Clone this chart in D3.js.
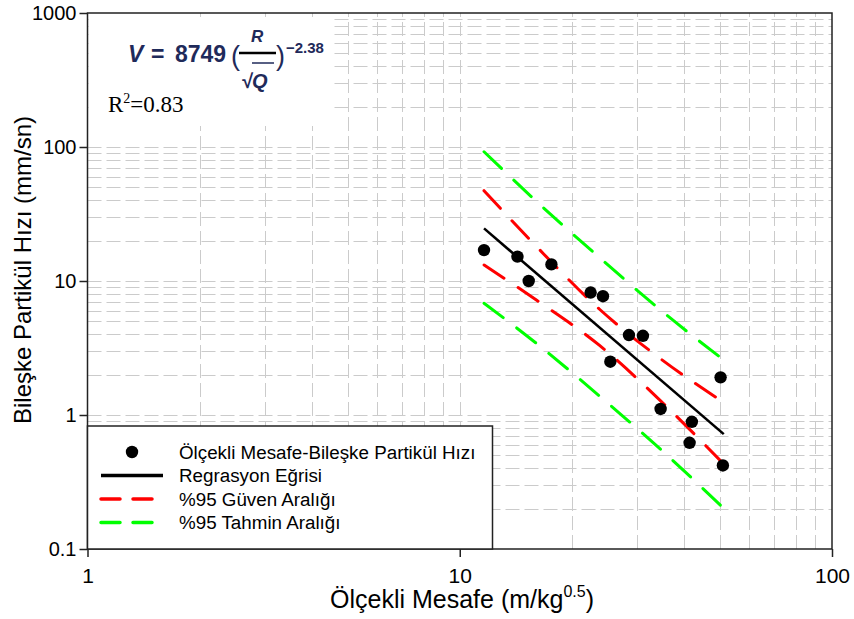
<!DOCTYPE html>
<html>
<head>
<meta charset="utf-8">
<script src="https://cdn.jsdelivr.net/npm/d3@7"></script>
<style>
  body { margin: 0; background: #fff; }
  svg { font-family: "Liberation Sans", Arial, sans-serif; }
</style>
</head>
<body>
<div id="chart"></div>
<script>
const W = 854, H = 619;
const margin = {left: 87.5, right: 22, top: 13, bottom: 70};

// observed points
const obsX = [11.62, 14.29, 15.32, 17.63, 22.47, 24.25, 25.38, 28.48, 31.05, 34.64, 41.44, 42.03, 50.2, 50.92];
const obsY = [17.0, 15.2, 10.0, 13.3, 8.2, 7.7, 2.5, 3.95, 3.9, 1.11, 0.62, 0.89, 1.91, 0.42];

// regression line
const regX = [11.62, 51.2];
const regY = [24.7, 0.72];

// confidence / prediction bands
const bandX = [11.62, 16.1, 23.7, 34.8, 51.2];
const confUpper = [47.2, 18.0, 6.18, 2.60, 1.24];
const confLower = [13.16, 7.18, 3.32, 1.26, 0.43];
const predUpper = [92.2, 39.1, 15.0, 6.0, 2.57];
const predLower = [6.82, 3.41, 1.39, 0.548, 0.201];

const xTicks = [1, 10, 100];
const yTicks = [0.1, 1, 10, 100, 1000];

const legendLabels = ["Ölçekli Mesafe-Bileşke Partikül Hızı", "Regrasyon Eğrisi", "%95 Güven Aralığı", "%95 Tahmin Aralığı"];

var svg = d3.select("#chart").append("svg")
    .attr("width", W)
    .attr("height", H);

var x = d3.scaleLog().domain([1, 100]).range([margin.left, W - margin.right]);
var y = d3.scaleLog().domain([0.1, 1000]).range([H - margin.bottom, margin.top]);

// grid (minor + major)
var grid = svg.append("g").attr("class", "grid")
    .attr("stroke", "#cbcbcb")
    .attr("stroke-width", 1)
    .attr("stroke-dasharray", "14,5");
grid.selectAll("line.h")
    .data(y.ticks().filter(d => d > 0.1 && d < 1000))
    .enter().append("line")
    .attr("x1", x(1)).attr("x2", x(100))
    .attr("y1", d => Math.round(y(d)) + 0.5).attr("y2", d => Math.round(y(d)) + 0.5);
grid.selectAll("line.v")
    .data(x.ticks().filter(d => d > 1 && d < 100))
    .enter().append("line")
    .attr("y1", y(0.1)).attr("y2", y(1000))
    .attr("x1", d => Math.round(x(d)) + 0.5).attr("x2", d => Math.round(x(d)) + 0.5);

// white box behind the equation
svg.append("rect")
    .attr("x", x(1) + 1).attr("y", 17)
    .attr("width", 245).attr("height", 109)
    .attr("fill", "#fff");

// bands
function linePts(xs, ys) { return xs.map((d, i) => [x(d), y(ys[i])]); }
var curve = d3.line().curve(d3.curveMonotoneX);

var bands = [
  {xs: bandX, ys: predUpper, c: "#00ff00"},
  {xs: bandX, ys: predLower, c: "#00ff00"},
  {xs: bandX, ys: confUpper, c: "#ff0000"},
  {xs: bandX, ys: confLower, c: "#ff0000"}
];
svg.append("g").selectAll("path")
    .data(bands)
    .enter().append("path")
    .attr("d", d => curve(linePts(d.xs, d.ys)))
    .attr("fill", "none")
    .attr("stroke", d => d.c)
    .attr("stroke-width", 3)
    .attr("stroke-linecap", "round")
    .attr("stroke-dasharray", "24,17");

// regression
svg.append("path")
    .attr("d", d3.line()(linePts(regX, regY)))
    .attr("fill", "none")
    .attr("stroke", "#000")
    .attr("stroke-width", 2.6);

// points
svg.append("g").selectAll("circle")
    .data(obsX)
    .enter().append("circle")
    .attr("cx", d => x(d))
    .attr("cy", (d, i) => y(obsY[i]))
    .attr("r", 6.2)
    .attr("fill", "#000");

// frame
svg.append("rect")
    .attr("x", x(1)).attr("y", y(1000))
    .attr("width", x(100) - x(1)).attr("height", y(0.1) - y(1000))
    .attr("fill", "none")
    .attr("stroke", "#222")
    .attr("stroke-width", 1.5);

// axes
var yAxis = svg.append("g")
    .attr("transform", "translate(" + x(1) + ",0)")
    .call(d3.axisLeft(y).tickValues(yTicks).tickSize(8).tickPadding(3).tickFormat(d3.format("")));
var xAxis = svg.append("g")
    .attr("transform", "translate(0," + y(0.1) + ")")
    .call(d3.axisBottom(x).tickValues(xTicks).tickSize(8).tickPadding(11).tickFormat(d3.format("")));
[xAxis, yAxis].forEach(function (a) {
    a.select(".domain").remove();
    a.selectAll(".tick line").attr("stroke", "#222").attr("stroke-width", 1.5);
    a.selectAll("text").attr("font-size", 20).attr("fill", "#000")
        .attr("font-family", "Liberation Sans, Arial, sans-serif");
});
xAxis.selectAll("text").attr("font-size", 21);

// legend
var lg = svg.append("g");
lg.append("rect")
    .attr("x", x(1)).attr("y", 426)
    .attr("width", 405).attr("height", y(0.1) - 426)
    .attr("fill", "#fff")
    .attr("stroke", "#222")
    .attr("stroke-width", 1.5);
var rows = lg.selectAll("g.row")
    .data(legendLabels)
    .enter().append("g")
    .attr("transform", (d, i) => "translate(0," + (452 + i * 23.5) + ")");
rows.append("text")
    .attr("x", 179).attr("dy", "0.35em")
    .attr("font-size", 18.8)
    .text(d => d);
rows.filter((d, i) => i === 0).append("circle")
    .attr("cx", 132).attr("r", 6.2).attr("fill", "#000");
rows.filter((d, i) => i > 0).append("line")
    .attr("x1", 101).attr("x2", 163)
    .attr("stroke", (d, i) => ["#000", "#ff0000", "#00ff00"][i])
    .attr("stroke-width", 3.5)
    .attr("stroke-linecap", (d, i) => i === 0 ? "butt" : "round")
    .attr("stroke-dasharray", (d, i) => i === 0 ? null : "19,13");

// axis titles
var xt = svg.append("text")
    .attr("x", 462).attr("y", 608)
    .attr("text-anchor", "middle")
    .attr("font-size", 25);
xt.append("tspan").text("Ölçekli Mesafe (m/kg");
xt.append("tspan").attr("dy", -11).attr("font-size", 16).text("0.5");
xt.append("tspan").attr("dy", 11).text(")");

svg.append("text")
    .attr("transform", "translate(31,270) rotate(-90)")
    .attr("text-anchor", "middle")
    .attr("font-size", 24)
    .text("Bileşke Partikül Hızı (mm/sn)");

// equation
var eqColor = "#1f2a5a";
var eq = svg.append("g").attr("fill", eqColor).attr("font-family", "Liberation Sans, Arial, sans-serif");
eq.append("text").attr("x", 128).attr("y", 62).attr("font-size", 23).attr("font-style", "italic").attr("font-weight", "bold").text("V");
eq.append("text").attr("x", 151).attr("y", 62).attr("font-size", 23).attr("font-weight", "bold").text("=");
eq.append("text").attr("x", 175).attr("y", 62).attr("font-size", 23).attr("font-weight", "bold").text("8749");
eq.append("text").attr("x", 231).attr("y", 65).attr("font-size", 27).text("(");
eq.append("text").attr("x", 251).attr("y", 42).attr("font-size", 17).attr("font-style", "italic").attr("font-weight", "bold").text("R");
eq.append("line").attr("x1", 239).attr("x2", 276).attr("y1", 53).attr("y2", 53).attr("stroke", "#000").attr("stroke-width", 2.5);
eq.append("text").attr("x", 241).attr("y", 88).attr("font-size", 20).attr("font-style", "italic").attr("font-weight", "bold").text("√Q");
eq.append("line").attr("x1", 252).attr("x2", 274).attr("y1", 63).attr("y2", 63).attr("stroke", eqColor).attr("stroke-width", 1.5);
eq.append("text").attr("x", 276).attr("y", 65).attr("font-size", 27).text(")");
eq.append("text").attr("x", 286).attr("y", 53).attr("font-size", 15).attr("font-weight", "bold").text("−2.38");

var r2 = svg.append("text")
    .attr("x", 108).attr("y", 112)
    .attr("font-family", "Liberation Serif, Times New Roman, serif")
    .attr("font-size", 23);
r2.append("tspan").text("R");
r2.append("tspan").attr("dy", -9).attr("font-size", 14).text("2");
r2.append("tspan").attr("dy", 9).text("=0.83");
</script>
</body>
</html>
